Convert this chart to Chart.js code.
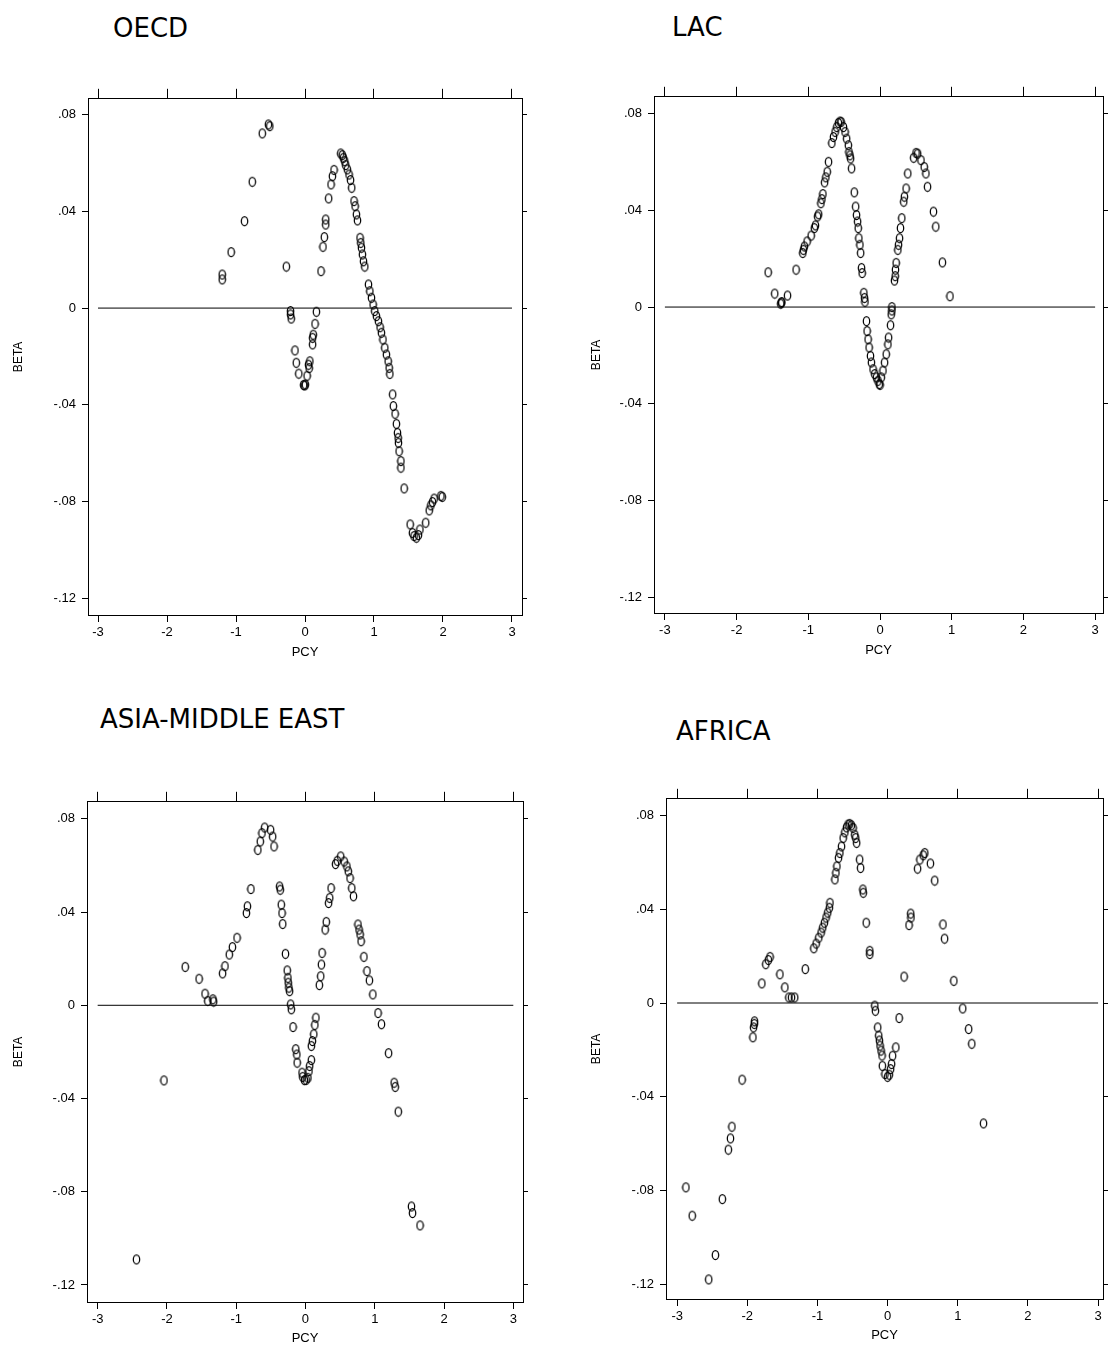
<!DOCTYPE html>
<html>
<head>
<meta charset="utf-8">
<script src="https://cdn.jsdelivr.net/npm/chart.js@4.4.1/dist/chart.umd.min.js"></script>
<style>
html,body{margin:0;padding:0;background:#fff;}
body{width:1109px;height:1346px;overflow:hidden;position:relative;}
canvas{position:absolute;}
.ttl{position:absolute;font-family:"DejaVu Sans",Verdana,sans-serif;font-size:26px;color:#000;line-height:1;white-space:nowrap;}
</style>
</head>
<body>
<div class="ttl" style="left:113px;top:15px">OECD</div>
<div class="ttl" style="left:672px;top:14px">LAC</div>
<div class="ttl" style="left:100px;top:706px">ASIA-MIDDLE EAST</div>
<div class="ttl" style="left:676px;top:718px">AFRICA</div>

<canvas id="c1" width="530" height="577" style="left:0px;top:85px"></canvas>
<canvas id="c2" width="531" height="577" style="left:578px;top:83px"></canvas>
<canvas id="c3" width="531" height="560" style="left:0px;top:788px"></canvas>
<canvas id="c4" width="531" height="560" style="left:578px;top:785px"></canvas>

<script>
// ---------- tick labels ----------
const xTicks = [-3, -2, -1, 0, 1, 2, 3];
const yTicks = [-0.12, -0.08, -0.04, 0, 0.04, 0.08];
// zero reference line
const lineX = [-3, 3];
const lineY = [0, 0];

// ---------- OECD ----------
const oecdX = [-1.20,-1.20,-1.07,-0.876,-0.764,-0.619,-0.53,-0.51,-0.27,-0.21,-0.21,-0.20,-0.145,-0.126,-0.09,-0.02,-0.005,0.005,0.03,0.05,0.06,0.07,0.11,0.11,0.12,0.145,0.165,0.232,0.26,0.28,0.30,0.30,0.343,0.377,0.397,0.421,0.518,0.54,0.556,0.576,0.59,0.614,0.638,0.66,0.677,0.711,0.726,0.745,0.76,0.798,0.808,0.818,0.832,0.847,0.866,0.92,0.94,0.963,0.987,1.01,1.035,1.064,1.088,1.107,1.13,1.156,1.18,1.205,1.22,1.23,1.27,1.28,1.306,1.325,1.34,1.35,1.355,1.364,1.39,1.39,1.437,1.524,1.557,1.58,1.615,1.644,1.665,1.75,1.80,1.824,1.848,1.872,1.97,1.99];
const oecdY = [0.0139,0.0119,0.0232,0.036,0.0523,0.0723,0.0760,0.0753,0.0172,-0.0012,-0.0026,-0.0043,-0.0175,-0.0226,-0.0271,-0.0318,-0.0320,-0.0316,-0.028,-0.0234,-0.0248,-0.022,-0.015,-0.0123,-0.011,-0.0065,-0.0015,0.0153,0.0254,0.0294,0.0346,0.0367,0.0454,0.0512,0.0546,0.0572,0.0640,0.0633,0.0622,0.0608,0.0592,0.0574,0.0553,0.0530,0.0498,0.0443,0.0422,0.0388,0.0363,0.0291,0.0270,0.0250,0.0222,0.0194,0.0172,0.0098,0.0070,0.0043,0.0015,-0.0012,-0.0033,-0.0054,-0.0079,-0.0102,-0.0130,-0.0164,-0.0192,-0.0220,-0.0247,-0.0272,-0.0357,-0.0405,-0.0437,-0.0479,-0.0516,-0.0537,-0.0557,-0.0592,-0.0633,-0.0660,-0.0746,-0.0895,-0.0930,-0.0943,-0.0950,-0.0939,-0.0916,-0.0888,-0.0837,-0.0816,-0.0802,-0.0788,-0.0777,-0.0781];

// ---------- LAC ----------
const lacX = [-1.56,-1.468,-1.385,-1.375,-1.37,-1.29,-1.17,-1.077,-1.068,-1.054,-1.017,-0.96,-0.916,-0.90,-0.87,-0.856,-0.824,-0.81,-0.796,-0.773,-0.755,-0.736,-0.718,-0.672,-0.649,-0.626,-0.603,-0.58,-0.557,-0.543,-0.51,-0.488,-0.465,-0.442,-0.433,-0.419,-0.41,-0.396,-0.359,-0.34,-0.327,-0.313,-0.304,-0.295,-0.28,-0.27,-0.258,-0.249,-0.225,-0.216,-0.21,-0.189,-0.18,-0.166,-0.152,-0.133,-0.12,-0.097,-0.074,-0.05,-0.028,-0.01,0.0,0.018,0.041,0.064,0.087,0.11,0.12,0.147,0.156,0.166,0.166,0.202,0.212,0.216,0.225,0.249,0.258,0.272,0.285,0.304,0.331,0.34,0.364,0.387,0.469,0.502,0.525,0.571,0.617,0.64,0.663,0.746,0.778,0.87,0.976];
const lacY = [0.0144,0.0056,0.0014,0.0018,0.0021,0.0048,0.0155,0.0224,0.0237,0.0251,0.0272,0.0296,0.0327,0.0338,0.0375,0.0384,0.0430,0.0447,0.0468,0.0516,0.0537,0.0560,0.0601,0.0679,0.0704,0.0725,0.0745,0.0762,0.0768,0.0766,0.0745,0.0725,0.0697,0.0670,0.0642,0.0628,0.0615,0.0574,0.0475,0.0416,0.0381,0.0354,0.0327,0.0285,0.0258,0.0224,0.0162,0.0141,0.0059,0.0038,0.0022,-0.0058,-0.0099,-0.0133,-0.0167,-0.0202,-0.0229,-0.0257,-0.0277,-0.0291,-0.0305,-0.0318,-0.0322,-0.0291,-0.0263,-0.0229,-0.0195,-0.0154,-0.0126,-0.0075,-0.0030,-0.0014,0.0,0.0110,0.0128,0.0155,0.0183,0.0237,0.0258,0.0285,0.0327,0.0368,0.0436,0.0457,0.0491,0.0553,0.0618,0.0638,0.0635,0.0608,0.0580,0.0553,0.0498,0.0395,0.0333,0.0185,0.0045];

// ---------- ASIA-MIDDLE EAST ----------
const asiaX = [-2.44,-2.043,-1.736,-1.536,-1.45,-1.41,-1.336,-1.326,-1.197,-1.162,-1.10,-1.055,-0.988,-0.853,-0.838,-0.788,-0.688,-0.653,-0.628,-0.589,-0.504,-0.474,-0.454,-0.374,-0.364,-0.349,-0.339,-0.329,-0.289,-0.264,-0.254,-0.249,-0.239,-0.229,-0.214,-0.204,-0.18,-0.14,-0.125,-0.12,-0.05,-0.04,-0.015,0.01,0.035,0.05,0.06,0.085,0.085,0.10,0.12,0.135,0.15,0.20,0.22,0.23,0.24,0.284,0.30,0.334,0.35,0.37,0.434,0.459,0.509,0.559,0.598,0.618,0.643,0.668,0.693,0.758,0.773,0.788,0.803,0.843,0.888,0.923,0.972,1.047,1.097,1.20,1.28,1.295,1.34,1.53,1.545,1.654];
const asiaY = [-0.109,-0.0322,0.0165,0.0114,0.0050,0.0019,0.0026,0.0016,0.0137,0.0168,0.0218,0.0250,0.0290,0.0396,0.0425,0.0499,0.0667,0.0703,0.0739,0.0763,0.0753,0.0724,0.0682,0.0510,0.0496,0.0432,0.0396,0.0349,0.0221,0.0150,0.0118,0.0097,0.0076,0.0061,0.0004,-0.0017,-0.0093,-0.0188,-0.0211,-0.0246,-0.0289,-0.0307,-0.0321,-0.0320,-0.0311,-0.0282,-0.0260,-0.0235,-0.0174,-0.0153,-0.0124,-0.0084,-0.0053,0.0087,0.0125,0.0175,0.0225,0.0325,0.0358,0.0439,0.0461,0.0503,0.0606,0.0620,0.0639,0.0617,0.0596,0.0575,0.0546,0.0503,0.0468,0.0347,0.0325,0.0304,0.0275,0.0208,0.0147,0.0107,0.0047,-0.0033,-0.0081,-0.0205,-0.0332,-0.0350,-0.0456,-0.0863,-0.0891,-0.0944];

// ---------- AFRICA ----------
const afrX = [-2.875,-2.785,-2.55,-2.455,-2.356,-2.27,-2.24,-2.22,-2.074,-1.92,-1.911,-1.90,-1.897,-1.793,-1.737,-1.70,-1.676,-1.535,-1.465,-1.408,-1.37,-1.324,-1.174,-1.052,-1.019,-0.981,-0.948,-0.925,-0.901,-0.878,-0.854,-0.831,-0.822,-0.751,-0.737,-0.723,-0.70,-0.681,-0.657,-0.634,-0.61,-0.587,-0.563,-0.54,-0.516,-0.493,-0.469,-0.455,-0.441,-0.399,-0.385,-0.352,-0.347,-0.305,-0.254,-0.254,-0.183,-0.174,-0.141,-0.127,-0.117,-0.108,-0.094,-0.08,-0.075,-0.038,0.0,0.024,0.042,0.057,0.071,0.117,0.164,0.235,0.305,0.329,0.333,0.427,0.46,0.507,0.53,0.61,0.671,0.789,0.812,0.944,1.07,1.155,1.20,1.367];
const afrY = [-0.0787,-0.0908,-0.118,-0.1076,-0.0837,-0.0626,-0.0578,-0.0528,-0.0327,-0.0146,-0.0104,-0.0089,-0.0078,0.0084,0.0166,0.0184,0.0197,0.0123,0.0067,0.0024,0.0024,0.0024,0.0145,0.0234,0.0254,0.0279,0.0301,0.0322,0.0343,0.0365,0.0386,0.0407,0.0428,0.0528,0.0556,0.0584,0.0620,0.0641,0.0669,0.0705,0.0729,0.0750,0.0762,0.0765,0.0759,0.0748,0.0719,0.0705,0.0684,0.0613,0.0577,0.0485,0.0471,0.0343,0.0223,0.0209,-0.0011,-0.0033,-0.0104,-0.0139,-0.0160,-0.0182,-0.0203,-0.0224,-0.0268,-0.0303,-0.0315,-0.0306,-0.0282,-0.0260,-0.0225,-0.0189,-0.0064,0.0113,0.0333,0.0382,0.0365,0.0574,0.0613,0.0631,0.0641,0.0596,0.0523,0.0336,0.0275,0.0095,-0.0023,-0.0111,-0.0174,-0.0514];

// ---------- drawing ----------
const FAM = '"Liberation Sans", Arial, Helvetica, sans-serif';
const INK = '#000';

function marker() {
  const c = document.createElement('canvas');
  c.width = 9; c.height = 12;
  const g = c.getContext('2d');
  g.strokeStyle = '#000';
  g.lineWidth = 1.25;
  g.beginPath();
  g.ellipse(4.5, 6, 3.2, 4.5, 0, 0, Math.PI * 2);
  g.stroke();
  return c;
}
const MK = marker();

function yFmt(v) {
  if (Math.abs(v) < 1e-9) return '0';
  const s = Math.abs(v).toFixed(2).replace(/^0/, '');
  return (v < 0 ? '-' : '') + s;
}

function pairs(xs, ys) { return xs.map((x, i) => ({x: x, y: ys[i]})); }

function build(id, p, xs, ys) {
  const setX = s => { s.ticks = xTicks.map(v => ({value: v})); };
  const setY = s => { s.ticks = yTicks.map(v => ({value: v})); };
  const gridBase = {drawOnChartArea: false, drawTicks: true, color: INK, lineWidth: 1};
  new Chart(document.getElementById(id), {
    type: 'scatter',
    data: {
      datasets: [
        {type: 'line', data: pairs(lineX, lineY), showLine: true, borderColor: '#000', borderWidth: 1, pointRadius: 0, order: 2},
        {data: pairs(xs, ys), pointStyle: MK, pointRadius: 5, order: 1}
      ]
    },
    options: {
      responsive: false, animation: false, devicePixelRatio: 1,
      layout: {padding: 0},
      plugins: {legend: {display: false}, tooltip: {enabled: false}},
      scales: {
        x: {
          type: 'linear', position: 'bottom', min: p.xmin, max: p.xmax,
          afterBuildTicks: setX, afterFit: s => { s.height = p.bh; },
          ticks: {font: {family: FAM, size: 13}, color: INK, padding: 3, autoSkip: false, maxRotation: 0, callback: v => String(v)},
          grid: Object.assign({}, gridBase, {tickLength: 7}),
          border: {display: true, color: INK, width: 1},
          title: {display: true, text: 'PCY', color: INK, font: {family: FAM, size: 13}, padding: {top: 0, bottom: 2}}
        },
        xTop: {
          type: 'linear', axis: 'x', position: 'top', min: p.xmin, max: p.xmax,
          afterBuildTicks: setX, afterFit: s => { s.height = p.th; },
          ticks: {display: false},
          grid: Object.assign({}, gridBase, {tickLength: 10}),
          border: {display: true, color: INK, width: 1}
        },
        y: {
          type: 'linear', position: 'left', min: p.ymin, max: p.ymax,
          afterBuildTicks: setY, afterFit: s => { s.width = p.lw; },
          ticks: {font: {family: FAM, size: 13}, color: INK, padding: 6, autoSkip: false, callback: v => yFmt(v)},
          grid: Object.assign({}, gridBase, {tickLength: 6}),
          border: {display: true, color: INK, width: 1},
          title: {display: true, text: 'BETA', color: INK, font: {family: FAM, size: 12}, padding: {top: 11, bottom: 0}}
        },
        yRight: {
          type: 'linear', axis: 'y', position: 'right', min: p.ymin, max: p.ymax,
          afterBuildTicks: setY, afterFit: s => { s.width = p.rw; },
          ticks: {display: false},
          grid: Object.assign({}, gridBase, {tickLength: 5}),
          border: {display: true, color: INK, width: 1}
        }
      }
    }
  });
}

build('c1', {xmin: -3.145, xmax: 3.145, ymin: -0.127, ymax: 0.0866, lw: 88, rw: 8, th: 12, bh: 47}, oecdX, oecdY);
build('c2', {xmin: -3.152, xmax: 3.11, ymin: -0.1266, ymax: 0.087, lw: 76, rw: 1, th: 12, bh: 47}, lacX, lacY);
build('c3', {xmin: -3.154, xmax: 3.14, ymin: -0.1273, ymax: 0.0873, lw: 87, rw: 8, th: 12, bh: 46}, asiaX, asiaY);
build('c4', {xmin: -3.159, xmax: 3.07, ymin: -0.1264, ymax: 0.0872, lw: 88, rw: 1, th: 12, bh: 46}, afrX, afrY);
</script>
</body>
</html>
